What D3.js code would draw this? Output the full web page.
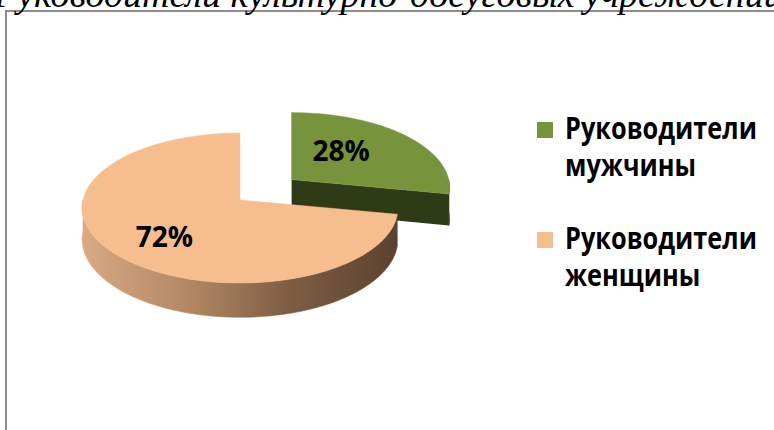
<!DOCTYPE html>
<html>
<head>
<meta charset="utf-8">
<script src="https://cdn.jsdelivr.net/npm/d3@7"></script>
<style>
  body { margin: 0; background: #fff; overflow: hidden; }
  svg  { display: block; }
</style>
</head>
<body>
<svg id="chart" width="774" height="430"></svg>
<script>
// ── data ─────────────────────────────────────────────
const categories  = ["Руководители мужчины", "Руководители женщины"];
const legendLines = [["Руководители", "мужчины"], ["Руководители", "женщины"]];
const values      = [28, 72];
const explodeBy   = [0.44, 0];          // exploded point (fraction of radius)
const titleText   = "Руководители культурно-досуговых учреждений";

// ── layout / style ───────────────────────────────────
const CX = 240, CY = 200;   // pie centre (top face)
const RX = 157, RY = 75;    // ellipse radii
const PERSP = 0.107;        // front bigger than back
const DEPTH = 31;           // thickness
const LABEL_R = 0.5;
const LABEL_NUDGE = [[-9, -6], [-13, 12]];
const FONT = "'Open Sans', 'DejaVu Sans', sans-serif";
const LEGEND_W = 192;       // width of "Руководители" in the picture
const LEGEND_FS = 30;
const LEGEND_STEP = 110;    // between legend entries
const LEGEND_LH = 37;       // line height inside an entry
const topColor  = ["#77933c", "#f6be8e"];
const sideColor = ["#2f3b17", "url(#peachSide)"];

const svg = d3.select("#chart");

// peach side gradient
const defs = svg.append("defs");
const grad = defs.append("linearGradient")
    .attr("id", "peachSide")
    .attr("gradientUnits", "userSpaceOnUse")
    .attr("x1", CX - RX).attr("x2", CX + RX).attr("y1", 0).attr("y2", 0);
[[0, "#d9a982"], [0.35, "#b08663"], [0.65, "#7f5e45"], [1, "#5b4230"]].forEach(([o, c]) =>
    grad.append("stop").attr("offset", o).attr("stop-color", c));

// border (frame goes off the picture right / bottom)
svg.append("rect")
    .attr("x", 6).attr("y", 11).attr("width", 900).attr("height", 600)
    .attr("fill", "none").attr("stroke", "#8c8c8c").attr("stroke-width", 2);

// title (cut at the top)
svg.append("text")
    .attr("x", -6).attr("y", 7)
    .attr("font-family", "'Liberation Serif', 'Times New Roman', serif")
    .attr("font-style", "italic")
    .attr("font-size", 38)
    .attr("fill", "#000")
    .text(titleText);

// ── 3D projection ────────────────────────────────────
// theta: clockwise from 12 o'clock, r: 0..1, h: 0 top / 1 bottom
function proj(theta, r, h, off) {
    const k = 1 - PERSP * Math.cos(theta) * r;
    return [
        CX + off[0] + RX * r * Math.sin(theta) * k,
        CY + off[1] - RY * r * Math.cos(theta) * k + h * DEPTH * k
    ];
}

function arcPts(a0, a1, h, off) {
    const n = Math.max(2, Math.ceil(Math.abs(a1 - a0) / 0.02));
    return d3.range(n + 1).map(i => proj(a0 + (a1 - a0) * i / n, 1, h, off));
}

const line = d3.line();

const pie = d3.pie().sort(null).startAngle(0).endAngle(2 * Math.PI);
const slices = pie(values).map((d, i) => {
    const mid = (d.startAngle + d.endAngle) / 2;
    const p = proj(mid, explodeBy[i], 0, [0, 0]);
    return Object.assign(d, { i, mid, off: [p[0] - CX, p[1] - CY] });
});

// draw back (exploded green) slice first, then the front peach slice
[0, 1].forEach(idx => {
    const s = slices[idx];
    const g = svg.append("g").attr("class", "slice");
    const a0 = s.startAngle, a1 = s.endAngle;

    // outer side — only the front half is visible
    const v0 = Math.max(a0, Math.PI / 2), v1 = Math.min(a1, 3 * Math.PI / 2);
    if (v1 > v0) {
        const pts = arcPts(v0, v1, 0, s.off).concat(arcPts(v1, v0, 1, s.off));
        g.append("path").attr("d", line(pts) + "Z")
            .attr("fill", sideColor[idx]).attr("stroke", sideColor[idx]).attr("stroke-width", 0.5);
    }

    // radial cut faces facing the viewer
    [[a0, a0 - Math.PI / 2], [a1, a1 + Math.PI / 2]].forEach(([a, n]) => {
        if (-Math.cos(n) > 0.05) {
            const pts = [proj(a, 0, 0, s.off), proj(a, 1, 0, s.off),
                         proj(a, 1, 1, s.off), proj(a, 0, 1, s.off)];
            g.append("path").attr("d", line(pts) + "Z")
                .attr("fill", idx === 0 ? "#2f3b17" : "#8a6549");
        }
    });

    // top face
    const top = [proj(0, 0, 0, s.off)].concat(arcPts(a0, a1, 0, s.off));
    g.append("path").attr("d", line(top) + "Z")
        .attr("fill", topColor[idx]).attr("stroke", topColor[idx]).attr("stroke-width", 0.5);
});

// data labels
slices.forEach(s => {
    const p = proj(s.mid, LABEL_R, 0, s.off);
    svg.append("text")
        .attr("x", p[0] + LABEL_NUDGE[s.i][0])
        .attr("y", p[1] + LABEL_NUDGE[s.i][1])
        .attr("dy", "0.36em")
        .attr("text-anchor", "middle")
        .attr("font-family", FONT).attr("font-weight", "bold")
        .attr("font-size", 28).attr("fill", "#000")
        .text(Math.round(s.data / d3.sum(values) * 100) + "%");
});

// ── legend ───────────────────────────────────────────
const legend = svg.append("g").attr("transform", "translate(537,122)");
const legendTexts = [];
categories.forEach((c, i) => {
    const lg = legend.append("g").attr("transform", `translate(0,${i * LEGEND_STEP})`);
    lg.append("rect").attr("width", 16).attr("height", 16).attr("fill", topColor[i]);
    const t = lg.append("text")
        .attr("class", "legend-text")
        .attr("transform", "translate(28,17)")
        .attr("font-family", FONT).attr("font-weight", "bold")
        .attr("font-size", LEGEND_FS).attr("fill", "#000");
    legendLines[i].forEach((ln, j) =>
        t.append("tspan").attr("x", 0).attr("dy", j === 0 ? 0 : LEGEND_LH).text(ln));
    legendTexts.push(t);
});

// Calibri in the picture is narrower than the fallback font: squeeze horizontally
const w0 = legendTexts[0].select("tspan").node().getComputedTextLength();
if (w0 > 0) {
    const sx = LEGEND_W / w0;
    legendTexts.forEach(t => t.attr("transform", `translate(28,17) scale(${sx},1)`));
}
</script>
</body>
</html>
